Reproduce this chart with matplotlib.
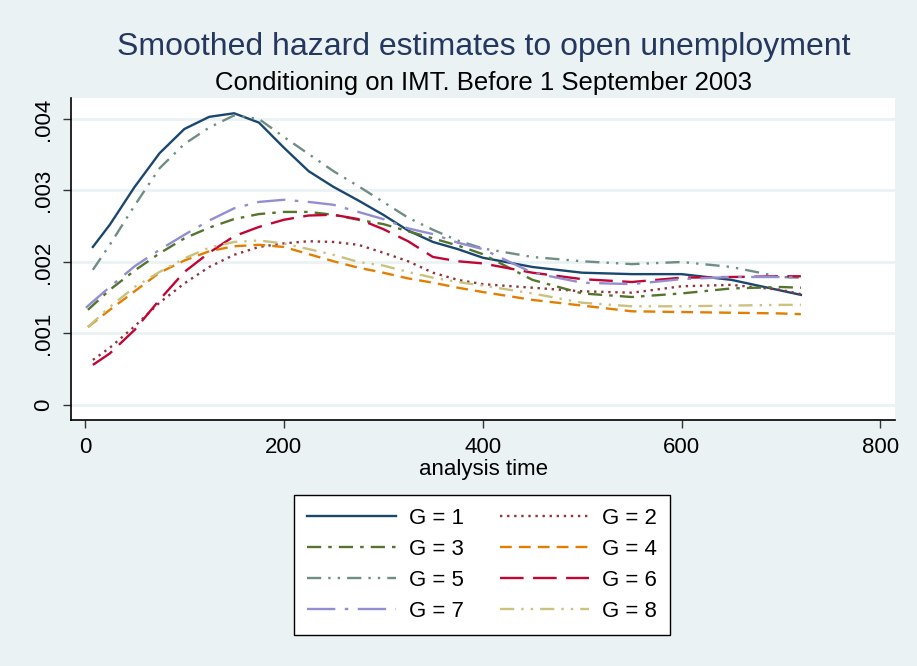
import matplotlib
matplotlib.use("Agg")
import matplotlib.pyplot as plt

# --- donnees (hazard x 1000) ---
t_grid = [25, 50, 75, 100, 125, 150, 175, 200, 225, 250, 275, 300, 325,
          350, 375, 400, 450, 500, 550, 600, 650, 700, 720]
t_start = [8, 8, 3, 3, 8, 8, 1, 3]

g1 = [2.21, 2.52, 3.05, 3.52, 3.86, 4.03, 4.08, 3.95, 3.60, 3.27, 3.05, 2.86, 2.66,
      2.44, 2.28, 2.18, 2.06, 1.93, 1.85, 1.83, 1.83, 1.75, 1.60, 1.54]
g2 = [0.63, 0.80, 1.10, 1.43, 1.70, 1.93, 2.10, 2.21, 2.26, 2.29, 2.28, 2.24, 2.13,
      2.01, 1.85, 1.75, 1.69, 1.64, 1.59, 1.57, 1.66, 1.68, 1.61, 1.55]
g3 = [1.33, 1.61, 1.88, 2.12, 2.33, 2.48, 2.60, 2.67, 2.70, 2.70, 2.66, 2.59, 2.53,
      2.43, 2.33, 2.23, 2.11, 1.75, 1.56, 1.51, 1.56, 1.63, 1.65, 1.64]
g4 = [1.09, 1.33, 1.59, 1.85, 2.02, 2.15, 2.22, 2.24, 2.21, 2.11, 2.01, 1.92, 1.85,
      1.77, 1.71, 1.64, 1.58, 1.47, 1.39, 1.31, 1.30, 1.29, 1.28, 1.27]
g5 = [1.89, 2.24, 2.79, 3.31, 3.65, 3.88, 4.05, 4.00, 3.75, 3.51, 3.27, 3.06, 2.84,
      2.62, 2.45, 2.30, 2.19, 2.07, 2.01, 1.97, 2.00, 1.93, 1.79, 1.78]
g6 = [0.56, 0.72, 1.05, 1.47, 1.86, 2.13, 2.36, 2.49, 2.59, 2.65, 2.66, 2.60, 2.46,
      2.29, 2.07, 2.01, 1.98, 1.85, 1.76, 1.72, 1.78, 1.79, 1.80, 1.80]
g7 = [1.36, 1.65, 1.94, 2.17, 2.38, 2.58, 2.75, 2.84, 2.87, 2.84, 2.80, 2.70, 2.60,
      2.47, 2.39, 2.27, 2.18, 1.85, 1.71, 1.69, 1.76, 1.79, 1.79, 1.78]
g8 = [1.09, 1.37, 1.65, 1.86, 2.05, 2.20, 2.28, 2.30, 2.26, 2.18, 2.10, 2.00, 1.95,
      1.86, 1.78, 1.72, 1.67, 1.56, 1.43, 1.38, 1.38, 1.39, 1.40, 1.40]

series = [g1, g2, g3, g4, g5, g6, g7, g8]
labels = ["G = %d" % (i + 1) for i in range(8)]

x_ticks = [0, 200, 400, 600, 800]
y_ticks = [0, 0.001, 0.002, 0.003, 0.004]
y_ticklabels = ["0", ".001", ".002", ".003", ".004"]

# --- style (Stata s2color) ---
BG = "#EAF2F3"
colors = ["#1A476F", "#90353B", "#55752F", "#E37E00",
          "#6E8E84", "#C10534", "#938DD2", "#CAC27E"]
styles = ["-", (0, (1, 2)), (0, (6, 3, 1.5, 3)), (0, (5, 3)),
          (0, (6, 3, 1, 3, 1, 3)), (0, (10, 4)), (0, (12, 4, 1.5, 4)),
          (0, (6, 3, 1, 3, 1, 3))]

plt.rcParams["font.family"] = ["Liberation Sans", "DejaVu Sans"]

fig = plt.figure(figsize=(9.17, 6.66), dpi=100, facecolor=BG)
ax = fig.add_axes([0.0774, 0.3694, 0.899, 0.4835])
ax.set_facecolor("white")

lines = []
for i, vals in enumerate(series):
    t = [t_start[i]] + t_grid
    y = [v / 1000.0 for v in vals]
    ln, = ax.plot(t, y, color=colors[i], linestyle=styles[i], linewidth=1.7,
                  label=labels[i])
    lines.append(ln)

ax.set_xlim(-14, 815)
ax.set_ylim(-0.00021, 0.004294)
ax.set_xticks(x_ticks)
ax.set_yticks(y_ticks)
ax.set_yticklabels(y_ticklabels, rotation=90, va="center")
ax.tick_params(axis="both", direction="out", length=6, width=1, labelsize=16,
               color="#333333")
ax.tick_params(axis="x", pad=6)
ax.tick_params(axis="y", pad=6)
ax.grid(axis="y", color=BG, linewidth=2)
ax.set_axisbelow(True)
for s in ["top", "right"]:
    ax.spines[s].set_visible(False)
for s in ["left", "bottom"]:
    ax.spines[s].set_color("black")
    ax.spines[s].set_linewidth(1.2)

ax.set_xlabel("analysis time", fontsize=16, labelpad=1)

fig.text(0.527, 0.930, "Smoothed hazard estimates to open unemployment",
         ha="center", va="center", fontsize=23, color="#24375F")
fig.text(0.527, 0.876, "Conditioning on IMT. Before 1 September 2003",
         ha="center", va="center", fontsize=18.5, color="black")

# ordre ligne par ligne comme dans Stata
order = [0, 2, 4, 6, 1, 3, 5, 7]
leg = fig.legend([lines[i] for i in order], [labels[i] for i in order],
                 ncol=2, loc="center", bbox_to_anchor=(0.5256, 0.1517),
                 fontsize=16, frameon=True, fancybox=False, framealpha=1,
                 handlelength=4.0, handletextpad=0.6, columnspacing=1.6,
                 labelspacing=0.45, borderpad=0.6)
leg.get_frame().set_edgecolor("black")
leg.get_frame().set_linewidth(1.0)

fig.savefig("out.png", dpi=100, facecolor=BG)
